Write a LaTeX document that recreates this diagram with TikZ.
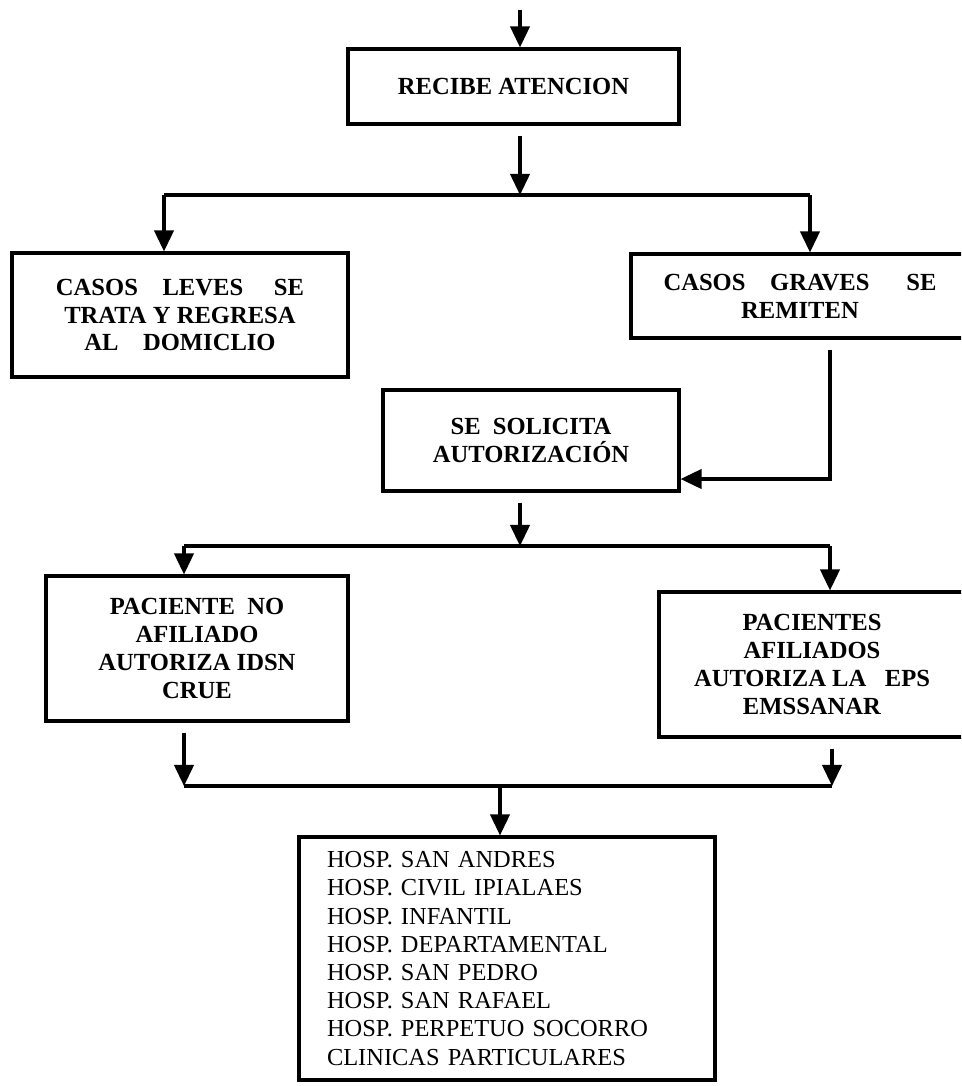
\documentclass[tikz,border=0pt]{standalone}
\usepackage{fontspec}
\setmainfont{Liberation Serif}
\usetikzlibrary{arrows.meta}
\tikzset{>={Triangle[width=11pt,length=12pt]}}

\begin{document}
\begin{tikzpicture}[
    x = 0.02cm, y = -0.02cm,
    line width = 1.8pt,
    box/.style = {draw, line width=1.8pt, align=center, inner sep=0pt,
        font=\fontsize{14}{15.9}\selectfont\bfseries},
    list/.style = {draw, line width=1.8pt, align=left, inner xsep=0.56cm,
        text width=7.2cm, minimum height=4.86cm,
        font=\fontsize{13.9}{16.05}\selectfont},
    gap/.style = {shorten <=2mm}
  ]
  \path[use as bounding box] (0,0) rectangle (961,1086);
  \clip (0,0) rectangle (961,1086);

  \node[box, minimum width=6.62cm, minimum height=1.5cm] (recibe) at (513.5,86.5) {RECIBE ATENCION};
  \node[box, minimum width=6.72cm, minimum height=2.48cm] (leves) at (180,315)
    {CASOS\quad LEVES\quad\ SE\\TRATA Y REGRESA\\AL\quad DOMICLIO};
  \node[box, minimum width=6.76cm, minimum height=1.68cm] (graves) at (800,296)
    {CASOS\quad GRAVES\quad\ \ SE\\REMITEN};
  \node[box, minimum width=5.92cm, minimum height=2.02cm] (solicita) at (531,440.5)
    {SE\ \ SOLICITA\\AUTORIZACIÓN};
  \node[box, minimum width=6.04cm, minimum height=2.9cm] (nafil) at (197,648.5)
    {PACIENTE\ \ NO\\AFILIADO\\AUTORIZA IDSN\\CRUE};
  \node[box, minimum width=6.12cm, minimum height=2.9cm] (afil) at (812,664.5)
    {PACIENTES\\AFILIADOS\\AUTORIZA LA\ \ \ EPS\\EMSSANAR};
  \node[list] (hosp) at (507,958.5)
    {HOSP. SAN ANDRES\\HOSP. CIVIL IPIALAES\\HOSP. INFANTIL\\HOSP. DEPARTAMENTAL\\
     HOSP. SAN PEDRO\\HOSP. SAN RAFAEL\\HOSP. PERPETUO SOCORRO\\CLINICAS PARTICULARES};

  \coordinate (top) at (520,10);
  \draw[->] (top) -- (top |- recibe.north);

  \coordinate (fork1) at (520,195);
  \coordinate (fork1 left) at (164,195);
  \coordinate (fork1 right) at (810,195);
  \draw[->, gap] (recibe.south -| fork1) -- (fork1);
  \draw (fork1 left) -- (fork1 right);
  \draw[->] (fork1 left) -- (fork1 left |- leves.north);
  \draw[->] (fork1 right) -- (fork1 right |- graves.north);

  \coordinate (back) at (830,479);
  \draw[->, gap] (graves.south -| back) -- (back) -- (back -| solicita.east);

  \coordinate (fork2) at (520,546);
  \coordinate (fork2 left) at (184,546);
  \coordinate (fork2 right) at (830,546);
  \draw[->, gap] (solicita.south -| fork2) -- (fork2);
  \draw (fork2 left) -- (fork2 right);
  \draw[->] (fork2 left) -- (fork2 left |- nafil.north);
  \draw[->] (fork2 right) -- (fork2 right |- afil.north);

  \coordinate (join) at (500,786);
  \coordinate (join left) at (184,786);
  \coordinate (join right) at (832,786);
  \draw[->, gap] (nafil.south -| join left) -- (join left);
  \draw[->, gap] (afil.south -| join right) -- (join right);
  \draw (join left) -- (join right);
  \draw[->] (join) -- (join |- hosp.north);
\end{tikzpicture}
\end{document}
